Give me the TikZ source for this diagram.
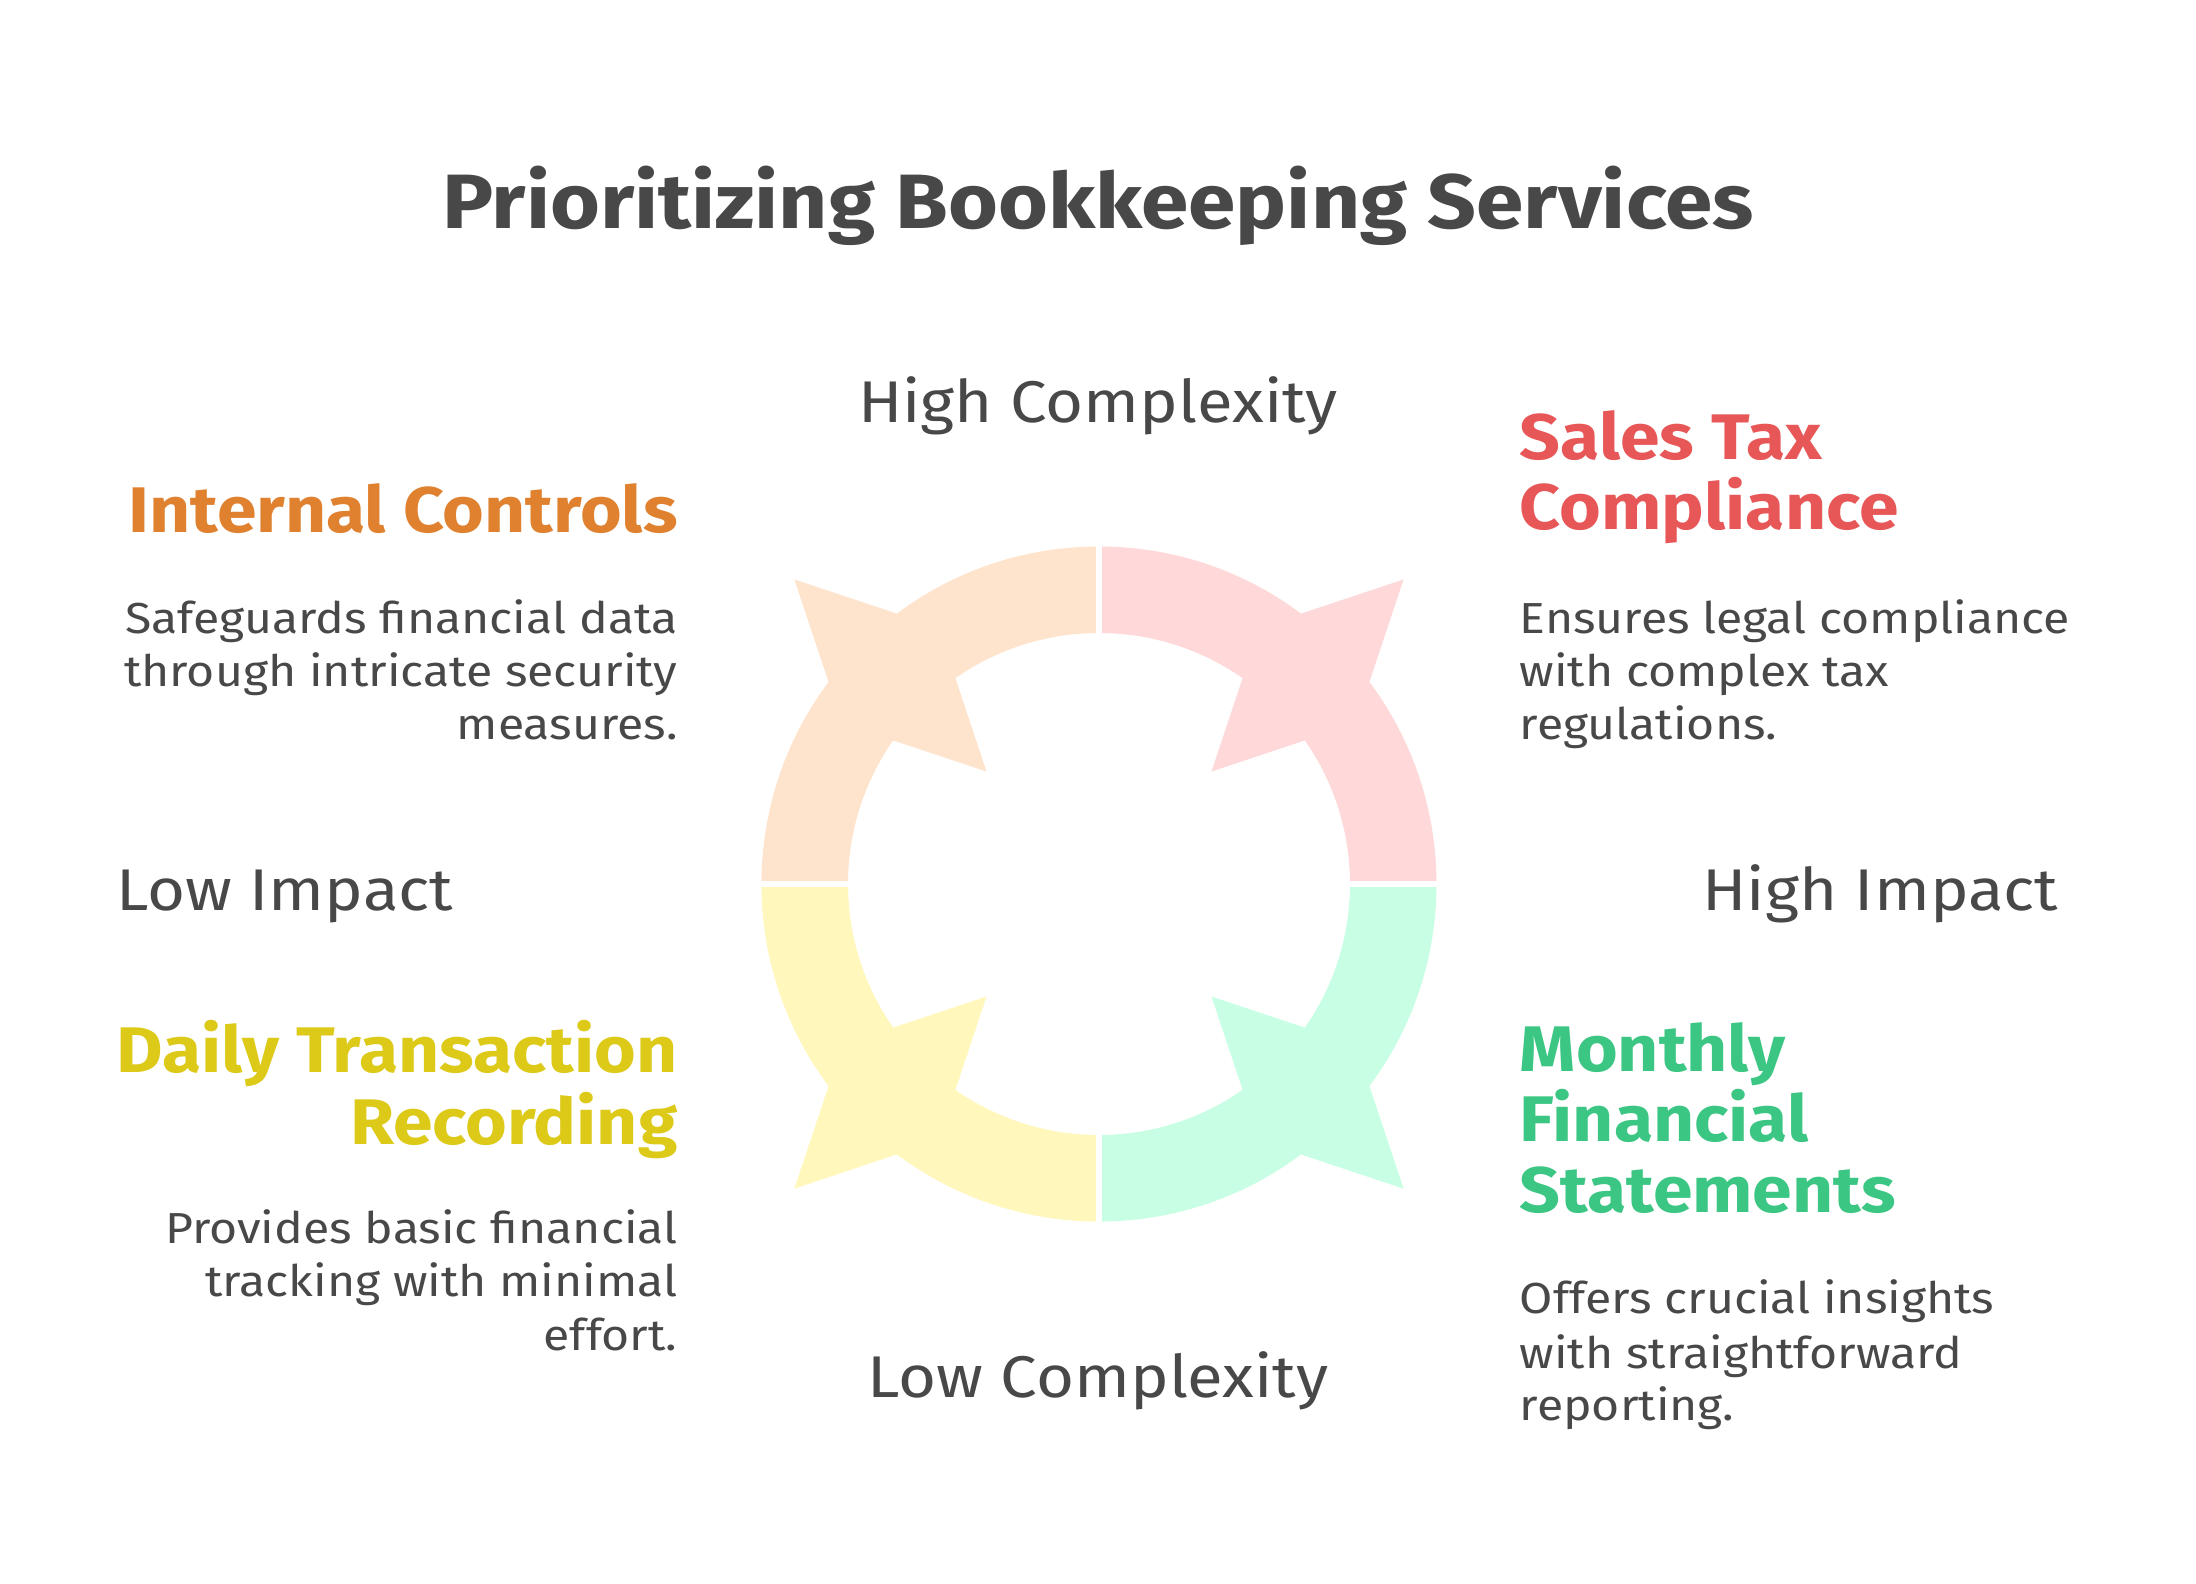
\documentclass[tikz,border=0pt]{standalone}
\usepackage{fontspec}
\setmainfont{Fira Sans}[FakeStretch=1.11]
\definecolor{txt}{HTML}{484848}
\definecolor{cOr}{HTML}{E0812F}
\definecolor{cRd}{HTML}{E85757}
\definecolor{cYe}{HTML}{DDC918}
\definecolor{cGr}{HTML}{3CC683}
\definecolor{fOr}{HTML}{FFE4CD}
\definecolor{fRd}{HTML}{FFD9D9}
\definecolor{fYe}{HTML}{FFF7BC}
\definecolor{fGr}{HTML}{C8FFE4}
\tikzset{
  titlestyle/.style={font=\fontsize{55}{60}\selectfont\bfseries, text=txt, inner sep=0},
  axislbl/.style={font=\fontsize{42}{50}\selectfont, text=txt, inner sep=0},
  headlbl/.style={font=\fontsize{46}{52}\selectfont\bfseries, inner sep=0},
  desclbl/.style={font=\fontsize{31}{38}\selectfont, text=txt, inner sep=0},
}
\newcommand\quadpiece[4]{%
  \fill[#1] ([shift={(C)}]#2:\Ri) -- ([shift={(C)}]#2:\Ro)
     arc[start angle=#2, end angle=#3, radius=\Ro]
     -- ([shift={(C)}]#3:\Ri)
     arc[start angle=#3, end angle=#2, radius=\Ri] -- cycle;
  \fill[#1] ([shift={(C)}]#4:\Rm+\Ra) -- ([shift={(C)}]#4+\Rang:\Rs)
     -- ([shift={(C)}]#4:\Rm-\Ra) -- ([shift={(C)}]#4-\Rang:\Rs) -- cycle;
}
\begin{document}
\begin{tikzpicture}[x=1pt,y=1pt]
\useasboundingbox[fill=white] (0,0) rectangle (1568,-1131);
\coordinate (C) at (784.7,-631.2);
\def\Ro{241}\def\Ri{179.2}\def\Rm{210.6}\def\Ra{97}\def\Rs{216.1}\def\Rang{12.97}
\quadpiece{fOr}{90}{180}{135}
\quadpiece{fRd}{0}{90}{45}
\quadpiece{fYe}{180}{270}{225}
\quadpiece{fGr}{270}{360}{315}
\draw[white, line width=4.3] ([shift={(C)}]90:\Ro+5) -- ([shift={(C)}]270:\Ro+5);
\draw[white, line width=4.3] ([shift={(C)}]0:\Ro+5) -- ([shift={(C)}]180:\Ro+5);

\node[titlestyle, anchor=base] (title) at (784,-163) {Prioritizing Bookkeeping Services};

\node[axislbl, anchor=base] (hc) at (784,-302) {High Complexity};
\node[axislbl, anchor=base] (lc) at (784,-998) {Low Complexity};
\node[axislbl, anchor=base west] (li) at (83,-650) {Low Impact};
\node[axislbl, anchor=base east] (hi) at (1470,-650) {High Impact};

\node[headlbl, text=cOr, anchor=base east] (ich) at (484,-380) {Internal Controls};
\node[desclbl, anchor=base east] (ic1) at (484,-452) {Safeguards financial data};
\node[desclbl, anchor=base east] (ic2) at (484,-490) {through intricate security};
\node[desclbl, anchor=base east] (ic3) at (484,-528) {measures.};

\node[headlbl, text=cRd, anchor=base west] (sth1) at (1085,-328) {Sales Tax};
\node[headlbl, text=cRd, anchor=base west] (sth2) at (1085,-378) {Compliance};
\node[desclbl, anchor=base west] (st1) at (1085,-452) {Ensures legal compliance};
\node[desclbl, anchor=base west] (st2) at (1085,-490) {with complex tax};
\node[desclbl, anchor=base west] (st3) at (1085,-528) {regulations.};

\node[headlbl, text=cYe, anchor=base east] (dth1) at (484,-766) {Daily Transaction};
\node[headlbl, text=cYe, anchor=base east] (dth2) at (484,-817) {Recording};
\node[desclbl, anchor=base east] (dt1) at (484,-888) {Provides basic financial};
\node[desclbl, anchor=base east] (dt2) at (484,-926) {tracking with minimal};
\node[desclbl, anchor=base east] (dt3) at (484,-964) {effort.};

\node[headlbl, text=cGr, anchor=base west] (mfh1) at (1085,-765) {Monthly};
\node[headlbl, text=cGr, anchor=base west] (mfh2) at (1085,-815) {Financial};
\node[headlbl, text=cGr, anchor=base west] (mfh3) at (1085,-866) {Statements};
\node[desclbl, anchor=base west] (mf1) at (1085,-938) {Offers crucial insights};
\node[desclbl, anchor=base west] (mf2) at (1085,-977) {with straightforward};
\node[desclbl, anchor=base west] (mf3) at (1085,-1014) {reporting.};
\end{tikzpicture}
\end{document}
